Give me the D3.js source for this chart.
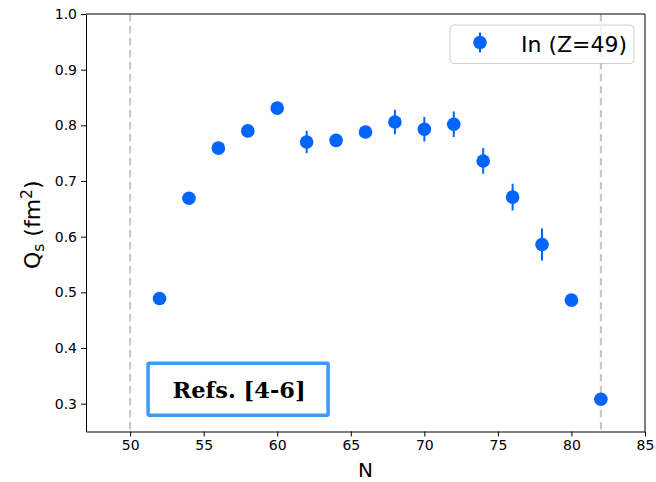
<!DOCTYPE html>
<html>
<head>
<meta charset="utf-8">
<script src="https://cdn.jsdelivr.net/npm/d3@7"></script>
<style>
  body { margin: 0; background: #fff; }
  svg { display: block; font-family: "DejaVu Sans", sans-serif; }
</style>
</head>
<body>
<script>
// neutron number N and quadrupole moment Qs (fm^2) for In (Z=49)
var neutrons = [52, 54, 56, 58, 60, 62, 64, 66, 68, 70, 72, 74, 76, 78, 80, 82];
var qs       = [0.489, 0.669, 0.759, 0.790, 0.831, 0.770, 0.773, 0.788, 0.806, 0.793, 0.802, 0.736, 0.671, 0.586, 0.486, 0.308];
var qsErr    = [0.004, 0.004, 0.004, 0.004, 0.004, 0.020, 0.004, 0.004, 0.022, 0.022, 0.023, 0.023, 0.024, 0.029, 0.004, 0.004];
var magicN   = [50, 82];
var xTicks   = [50, 55, 60, 65, 70, 75, 80, 85];
var yTicks   = [0.3, 0.4, 0.5, 0.6, 0.7, 0.8, 0.9, 1.0];
var seriesName = "In (Z=49)";
var refsLabel  = "Refs. [4-6]";

var width = 656, height = 482;
var margin = {top: 14, right: 11, bottom: 50.5, left: 86};
var w = width - margin.left - margin.right;
var h = height - margin.top - margin.bottom;
var blue = "#0165fc";

var svg = d3.select("body").append("svg").attr("width", width).attr("height", height);
var g = svg.append("g").attr("transform", "translate(" + margin.left + "," + margin.top + ")");

var x = d3.scaleLinear().domain([47, 85]).range([0, w]);
var y = d3.scaleLinear().domain([0.25, 1.0]).range([h, 0]);

// magic number lines
g.selectAll(".magic")
  .data(magicN)
  .enter().append("line")
  .attr("class", "magic")
  .attr("x1", function(d) { return x(d); })
  .attr("x2", function(d) { return x(d); })
  .attr("y1", 0).attr("y2", h)
  .attr("stroke", "#c4c4c4")
  .attr("stroke-width", 2)
  .attr("stroke-dasharray", "7.4,4.6");

var pts = neutrons.map(function(n, i) { return {n: n, q: qs[i], e: qsErr[i]}; });

// error bars
g.selectAll(".err")
  .data(pts)
  .enter().append("line")
  .attr("class", "err")
  .attr("x1", function(d) { return x(d.n); })
  .attr("x2", function(d) { return x(d.n); })
  .attr("y1", function(d) { return y(d.q - d.e); })
  .attr("y2", function(d) { return y(d.q + d.e); })
  .attr("stroke", blue)
  .attr("stroke-width", 2);

g.selectAll(".dot")
  .data(pts)
  .enter().append("circle")
  .attr("class", "dot")
  .attr("cx", function(d) { return x(d.n); })
  .attr("cy", function(d) { return y(d.q); })
  .attr("r", 6.8)
  .attr("fill", blue);

// axes
var xAxis = g.append("g")
  .attr("transform", "translate(0," + h + ")")
  .call(d3.axisBottom(x).tickValues(xTicks).tickSizeInner(5).tickSizeOuter(0).tickPadding(4).tickFormat(d3.format("d")));
var yAxis = g.append("g")
  .call(d3.axisLeft(y).tickValues(yTicks).tickSizeInner(5).tickSizeOuter(0).tickPadding(4).tickFormat(d3.format(".1f")));
g.append("line").attr("x1", w).attr("x2", w).attr("y1", 0).attr("y2", h).attr("stroke", "#000");
g.append("line").attr("x1", 0).attr("x2", w).attr("y1", 0).attr("y2", 0).attr("stroke", "#000");

[xAxis, yAxis].forEach(function(a) {
  a.select(".domain").attr("stroke", "#000").attr("stroke-width", 1);
  a.selectAll(".tick line").attr("stroke", "#000");
  a.selectAll(".tick text").attr("font-family", "DejaVu Sans").attr("font-size", 14).attr("fill", "#000");
});

// axis labels
svg.append("text")
  .attr("x", margin.left + x(66)).attr("y", 477)
  .attr("text-anchor", "middle")
  .attr("font-size", 20)
  .text("N");

var ylab = svg.append("text")
  .attr("transform", "translate(40," + (margin.top + h / 2 + 2) + ") rotate(-90)")
  .attr("text-anchor", "middle")
  .attr("font-size", 22);
ylab.append("tspan").text("Q");
ylab.append("tspan").attr("font-size", 15.5).attr("dy", 4).text("s");
ylab.append("tspan").attr("dy", -4).text(" (fm");
ylab.append("tspan").attr("font-size", 15.5).attr("dy", -8).text("2");
ylab.append("tspan").attr("dy", 8).text(")");

// legend
var leg = g.append("g").attr("transform", "translate(" + (w - 195) + ",11)");
leg.append("rect")
  .attr("width", 184).attr("height", 38.5).attr("rx", 4)
  .attr("fill", "#fff").attr("fill-opacity", 0.8)
  .attr("stroke", "#d0d0d0");
leg.append("line").attr("x1", 30).attr("x2", 30).attr("y1", 7.5).attr("y2", 27.5)
  .attr("stroke", blue).attr("stroke-width", 2);
leg.append("circle").attr("cx", 30).attr("cy", 17.5).attr("r", 6.8).attr("fill", blue);
leg.append("text").attr("x", 71).attr("y", 26.5)
  .attr("font-size", 22).text(seriesName);

// refs box
var rb = g.append("g").attr("transform", "translate(" + (x(51.22)) + "," + (y(0.5) + 71) + ")");
rb.append("rect").attr("width", 180).attr("height", 52)
  .attr("fill", "#fff").attr("stroke", "#3d9bf5").attr("stroke-width", 3.5).attr("rx", 1);
rb.append("text").attr("x", 91).attr("y", 34.5)
  .attr("text-anchor", "middle")
  .attr("font-family", "DejaVu Serif").attr("font-weight", "bold").attr("font-size", 22.5)
  .text(refsLabel);
</script>
</body>
</html>
